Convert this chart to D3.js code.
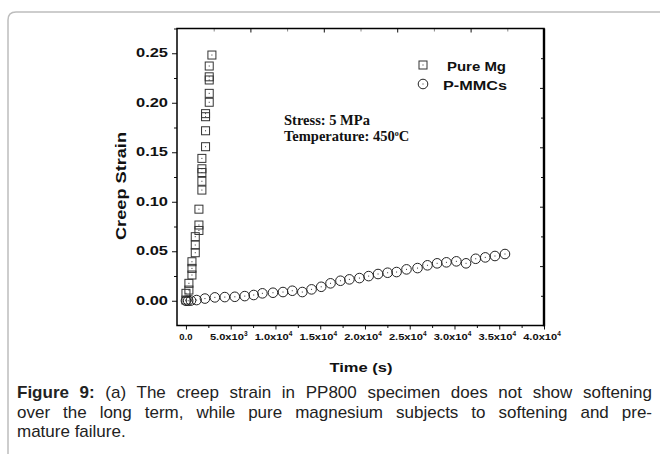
<!DOCTYPE html>
<html lang="en">
<head>
<meta charset="UTF-8">
<title>Creep strain vs time</title>
<script src="https://d3js.org/d3.v7.min.js"></script>
<style>
  body { margin: 0; background: #fff; }
  #wrap { position: relative; width: 660px; height: 454px; overflow: hidden; }
  svg { position: absolute; left: 0; top: 0; }
  .caption {
    position: absolute; left: 17px; top: 383px; width: 635px;
    font: 17px "Liberation Sans", Arial, sans-serif; color: #222;
    line-height: 19.5px;
  }
  .caption .ln { text-align: justify; text-align-last: justify; white-space: nowrap; }
  .caption .last { text-align: left; }
</style>
</head>
<body>
<div id="wrap">
<div class="caption">
  <div class="ln"><b>Figure 9:</b> (a) The creep strain in PP800 specimen does not show softening</div>
  <div class="ln">over the long term, while pure magnesium subjects to softening and pre-</div>
  <div class="last">mature failure.</div>
</div>
</div>
<script>
// Pure Mg (squares)
const mgTime = [0, 0, 330, 330, 670, 670, 670, 1040, 1040, 1040, 1450, 1450, 1450,
  1780, 1780, 1780, 1780, 1780, 2190, 2190, 2190, 2190, 2600, 2600, 2600, 2600, 2600, 2900];
const mgStrain = [0.0007, 0.0075, 0.0108, 0.0176, 0.026, 0.0327, 0.0394, 0.0485, 0.0563, 0.0647,
  0.071, 0.0765, 0.0925, 0.1118, 0.1207, 0.1295, 0.1333, 0.1438, 0.1556, 0.1717, 0.1859, 0.189,
  0.2005, 0.2095, 0.223, 0.2262, 0.2371, 0.2482];

// P-MMCs (circles)
const pmTime = [0, 250, 560, 1190, 2120, 3230, 4340, 5460, 6570, 7570, 8540, 9720, 10840, 11880,
  13000, 14030, 15110, 16150, 17260, 18260, 19380, 20410, 21460, 22530, 23530, 24640, 25870,
  26980, 28060, 29100, 30210, 31290, 32370, 33440, 34520, 35640];
const pmStrain = [0, 0, 0.0002, 0.0007, 0.0022, 0.0034, 0.0037, 0.004, 0.0047, 0.0058, 0.0075,
  0.0081, 0.0088, 0.0101, 0.0088, 0.0115, 0.0141, 0.0176, 0.0202, 0.0216, 0.0229, 0.0249, 0.027,
  0.0283, 0.029, 0.0317, 0.033, 0.0358, 0.0378, 0.0388, 0.0398, 0.0378, 0.0424, 0.0438, 0.0452,
  0.0472];

const xTicks = [0, 5000, 10000, 15000, 20000, 25000, 30000, 35000, 40000];
const xTickBase = ["0.0", "5.0x10", "1.0x10", "1.5x10", "2.0x10", "2.5x10", "3.0x10", "3.5x10", "4.0x10"];
const xTickExp = ["", "3", "4", "4", "4", "4", "4", "4", "4"];
const yTicks = [0, 0.05, 0.10, 0.15, 0.20, 0.25];
const legendNames = ["Pure Mg", "P-MMCs"];

const svg = d3.select("#wrap").insert("svg", ":first-child")
    .attr("width", 660).attr("height", 454);

// outer frame
svg.append("path")
    .attr("d", "M8,460 L8,20 Q8,12 16,12 L670,12")
    .attr("fill", "none").attr("stroke", "#bdbdbd").attr("stroke-width", 1.5);

const x = d3.scaleLinear().domain([-1000, 40000]).range([177, 544]);
const y = d3.scaleLinear().domain([-0.025, 0.275]).range([325.5, 28.5]);
// top and right frame ticks use plain tenths of the frame
const xTop = d3.scaleLinear().domain([0, 10]).range([177, 544]);
const yRight = d3.scaleLinear().domain([0, 10]).range([325.5, 28.5]);

const bold = "'Liberation Sans', Arial, sans-serif";

function tickAxis(axis, vals, size, color) {
  const g = svg.append("g");
  g.call(axis.tickValues(vals).tickSize(size).tickFormat(""));
  g.select(".domain").remove();
  g.selectAll(".tick line").attr("stroke", color).attr("stroke-width", 1);
  return g;
}

// bottom axis ticks (outward)
tickAxis(d3.axisBottom(x), xTicks, 4, "#111").attr("transform", "translate(0,325.5)");
tickAxis(d3.axisBottom(x), xTicks.slice(0, -1).map(d => d + 2500), 2.5, "#111").attr("transform", "translate(0,325.5)");

// left axis ticks (outward)
tickAxis(d3.axisLeft(y), yTicks, 5, "#111").attr("transform", "translate(177,0)");
tickAxis(d3.axisLeft(y), yTicks.map(d => d + 0.025), 3, "#111").attr("transform", "translate(177,0)");

// top frame ticks (inward)
tickAxis(d3.axisBottom(xTop), [2, 4, 6, 8], 4, "#111").attr("transform", "translate(0,28.5)");
tickAxis(d3.axisBottom(xTop), [1, 3, 5, 7, 9], 3, "#888").attr("transform", "translate(0,28.5)");

// right frame ticks (inward)
tickAxis(d3.axisLeft(yRight), [2, 4, 6, 8], 4, "#111").attr("transform", "translate(544,0)");
tickAxis(d3.axisLeft(yRight), [1, 3, 5, 7, 9], 3, "#111").attr("transform", "translate(544,0)");

// frame
const xr = x.range(), yr = y.range();
svg.append("rect")
    .attr("x", xr[0]).attr("y", yr[1])
    .attr("width", xr[1] - xr[0]).attr("height", yr[0] - yr[1])
    .attr("fill", "none").attr("stroke", "#000").attr("stroke-width", 1.5);
svg.append("path")
    .attr("d", d3.line()([[xr[1], yr[1]], [xr[1], yr[0] + 0.7]]))
    .attr("stroke", "#000").attr("stroke-width", 2.4);

// tick labels
const xl = svg.append("g").selectAll("text").data(xTicks).join("text")
    .attr("x", (d, i) => x(d) + (xTickExp[i] ? -2 : 0))
    .attr("y", 340)
    .attr("text-anchor", "middle")
    .style("font", `bold 9.5px ${bold}`).attr("fill", "#111");
xl.append("tspan")
    .attr("textLength", (d, i) => xTickExp[i] ? 34 : null)
    .attr("lengthAdjust", "spacingAndGlyphs")
    .text((d, i) => xTickBase[i]);
xl.append("tspan")
    .attr("dy", -4.5).style("font-size", "6.5px")
    .text((d, i) => xTickExp[i]);

svg.append("g").selectAll("text").data(yTicks).join("text")
    .attr("x", 168).attr("y", d => y(d) + 4.2)
    .attr("text-anchor", "end")
    .attr("textLength", 32).attr("lengthAdjust", "spacingAndGlyphs")
    .style("font", `bold 12px ${bold}`).attr("fill", "#111")
    .text(d => d.toFixed(2));

// axis titles
svg.append("text")
    .attr("transform", "translate(126,186) rotate(-90)")
    .attr("text-anchor", "middle")
    .attr("textLength", 108).attr("lengthAdjust", "spacingAndGlyphs")
    .style("font", `bold 15px ${bold}`).attr("fill", "#111")
    .text("Creep Strain");
svg.append("text")
    .attr("x", 361).attr("y", 372)
    .attr("text-anchor", "middle")
    .attr("textLength", 63).attr("lengthAdjust", "spacingAndGlyphs")
    .style("font", `bold 13.5px ${bold}`).attr("fill", "#111")
    .text("Time (s)");

// markers
const mgData = mgTime.map((t, i) => [t, mgStrain[i]]);
const pmData = pmTime.map((t, i) => [t, pmStrain[i]]);

function square(g, cx, cy) {
  g.append("rect").attr("x", cx - 4).attr("y", cy - 4).attr("width", 8).attr("height", 8)
      .attr("fill", "none").attr("stroke", "#333").attr("stroke-width", 1);
  g.append("rect").attr("x", cx - 0.5).attr("y", cy - 0.5).attr("width", 1).attr("height", 1).attr("fill", "#333");
}
function circle(g, cx, cy) {
  g.append("circle").attr("cx", cx).attr("cy", cy).attr("r", 4.8)
      .attr("fill", "none").attr("stroke", "#222").attr("stroke-width", 1);
  g.append("rect").attr("x", cx - 0.5).attr("y", cy - 0.5).attr("width", 1).attr("height", 1).attr("fill", "#333");
}

const gm = svg.append("g");
mgData.forEach(d => square(gm, x(d[0]), y(d[1])));
const gp = svg.append("g");
pmData.forEach(d => circle(gp, x(d[0]), y(d[1])));

// legend
const lg = svg.append("g");
square(lg, 423, 65);
circle(lg, 423, 84);
lg.append("text").attr("x", 447).attr("y", 70.5)
    .attr("textLength", 59).attr("lengthAdjust", "spacingAndGlyphs")
    .style("font", `bold 12.5px ${bold}`).attr("fill", "#111").text(legendNames[0]);
lg.append("text").attr("x", 443).attr("y", 90)
    .attr("textLength", 64).attr("lengthAdjust", "spacingAndGlyphs")
    .style("font", `bold 12.5px ${bold}`).attr("fill", "#111").text(legendNames[1]);

// annotation
const serif = "'Liberation Serif', 'Times New Roman', serif";
svg.append("text").attr("x", 284).attr("y", 125)
    .style("font", `bold 14.5px ${serif}`).attr("fill", "#111")
    .text("Stress: 5 MPa");
const t2 = svg.append("text").attr("x", 284).attr("y", 141)
    .style("font", `bold 14.5px ${serif}`).attr("fill", "#111");
t2.append("tspan").text("Temperature: 450");
t2.append("tspan").attr("dy", -5.5).style("font-size", "8px").text("o");
t2.append("tspan").attr("dy", 5.5).text("C");
</script>
</body>
</html>
